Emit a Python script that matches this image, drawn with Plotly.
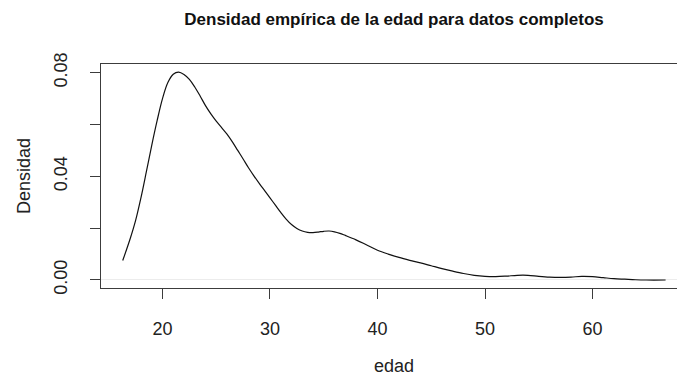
import plotly.graph_objects as go

# Estimated kernel density of age (edad), complete-case data
edad = [16.3, 17.0, 17.5, 18.0, 18.5, 19.0, 19.5, 20.0, 20.5, 21.0, 21.5, 22.0,
        22.5, 23.0, 23.5, 24.0, 24.5, 25.0, 25.5, 26.0, 26.5, 27.0, 27.5, 28.0,
        28.5, 29.0, 29.5, 30.0, 30.5, 31.0, 31.5, 32.0, 32.5, 33.0, 33.5, 34.0,
        34.5, 35.0, 35.5, 36.0, 36.5, 37.0, 38.0, 39.0, 40.0, 41.0, 42.0, 43.0,
        44.0, 45.0, 46.0, 47.0, 48.0, 49.0, 50.0, 51.0, 52.0, 53.0, 54.0, 55.0,
        56.0, 57.0, 58.0, 59.0, 60.0, 61.0, 62.0, 63.0, 64.0, 65.0, 66.8]
densidad = [0.0075, 0.0160, 0.0230, 0.0318, 0.0418, 0.0520, 0.0615, 0.0700, 0.0762,
            0.0794, 0.0802, 0.0793, 0.0774, 0.0745, 0.0710, 0.0673, 0.0641, 0.0613,
            0.0588, 0.0563, 0.0533, 0.0500, 0.0467, 0.0433, 0.0402, 0.0373, 0.0345,
            0.0317, 0.0289, 0.0261, 0.0235, 0.0214, 0.0199, 0.0189, 0.0184, 0.0183,
            0.0185, 0.0188, 0.0189, 0.0186, 0.0180, 0.0172, 0.0155, 0.0135, 0.0115,
            0.0100, 0.0087, 0.0076, 0.0066, 0.0055, 0.0044, 0.0034, 0.0025, 0.0018,
            0.0014, 0.0013, 0.0015, 0.0018, 0.0018, 0.0014, 0.0011, 0.0010, 0.0011,
            0.0014, 0.0013, 0.0009, 0.0005, 0.0003, 0.0001, 0.0000, 0.0000]

x_ticks = [20, 30, 40, 50, 60]
y_ticks = [0.00, 0.02, 0.04, 0.06, 0.08]
y_tick_text = ["0.00", "", "0.04", "", "0.08"]

FONT = "Liberation Sans, Arial, Helvetica, sans-serif"
W, H = 677, 377
L, T, B = 101, 64, 89
plot_w = W - L
plot_h = H - T - B

fig = go.Figure()
fig.add_trace(go.Scatter(
    x=edad, y=densidad, mode="lines",
    line=dict(color="#111111", width=1.2, shape="spline", smoothing=1.0),
    hoverinfo="skip", showlegend=False,
))

axis_line = "#3c3c3c"
fig.update_xaxes(
    range=[14.28, 67.86], tickvals=x_ticks, ticktext=[str(v) for v in x_ticks],
    showgrid=False, zeroline=False, showline=True, linecolor=axis_line, linewidth=1.2,
    mirror=True, ticks="outside", ticklen=10, tickcolor=axis_line, tickwidth=1.2,
    tickfont=dict(family=FONT, size=18, color="#222222"), ticklabelstandoff=14,
)
fig.update_yaxes(
    range=[-0.00309, 0.08336], tickvals=y_ticks, ticktext=y_tick_text,
    showgrid=False, zeroline=True, zerolinecolor="#ececec", zerolinewidth=1,
    showline=True, linecolor=axis_line, linewidth=1.2, mirror=False,
    ticks="outside", ticklen=10, tickcolor=axis_line, tickwidth=1.2, tickangle=-90,
    tickfont=dict(family=FONT, size=18, color="#222222"), ticklabelstandoff=16,
)

fig.update_layout(
    width=W, height=H,
    margin=dict(l=L, r=0, t=T, b=B),
    paper_bgcolor="white", plot_bgcolor="white",
    title=dict(
        text="<b>Densidad empírica de la edad para datos completos</b>",
        font=dict(family=FONT, size=17, color="#111111"),
        xref="container", x=394 / W, xanchor="center",
        yref="container", y=1 - 19 / H, yanchor="middle",
    ),
    annotations=[
        dict(text="edad", xref="paper", yref="paper",
             x=(394 - L) / plot_w, y=0, yshift=-(366 - (T + plot_h)),
             xanchor="center", yanchor="middle", showarrow=False, borderpad=0,
             font=dict(family=FONT, size=18, color="#222222")),
        dict(text="Densidad", xref="paper", yref="paper",
             x=0, xshift=-(L - 24), y=0.5, textangle=-90,
             xanchor="center", yanchor="middle", showarrow=False,
             font=dict(family=FONT, size=18, color="#222222")),
    ],
)

fig.write_html("out.html")
